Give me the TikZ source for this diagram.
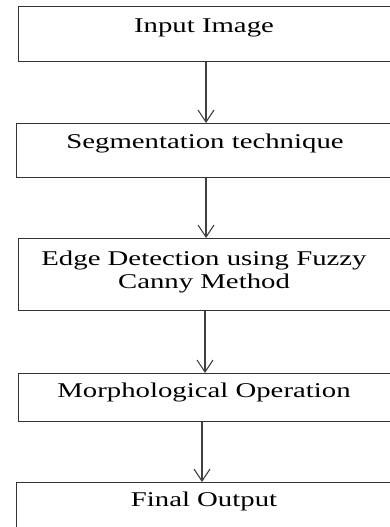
\documentclass[tikz,border=0pt]{standalone}
\usepackage{fontspec}
\setmainfont{Liberation Serif}[FakeStretch=1.37]
\usetikzlibrary{arrows.meta}
\begin{document}
\begin{tikzpicture}[x=1pt,y=1pt,
  stagebox/.style={draw=black!80, line width=1.3pt, rectangle, inner sep=0pt,
    anchor=north west, minimum width=374pt},
  stagetext/.style={anchor=base, align=center, inner sep=0pt,
    font=\fontsize{21}{23}\selectfont},
  flow/.style={draw=black!75, line width=1.1pt,
    -{Straight Barb[length=12pt,width=16pt,line width=1.1pt]}}]
\useasboundingbox (0,0) rectangle (390,-527);
\fill[white] (0,0) rectangle (390,-527);

% process boxes
\node[stagebox, minimum height=55pt] (b1) at (18,-6) {};
\node[stagebox, minimum height=54pt] (b2) at (16,-123) {};
\node[stagebox, minimum height=72pt] (b3) at (18,-238) {};
\node[stagebox, minimum height=48pt] (b4) at (18,-373) {};
\node[stagebox, minimum height=60pt] (b5) at (16,-482) {};

% box captions (base anchor sits on the last line of a caption)
\node[stagetext] (t1) at (204,-33) {Input Image};
\node[stagetext] (t2) at (205,-148) {Segmentation technique};
\node[stagetext] (t3) at (204,-288) {Edge Detection using Fuzzy\\Canny Method};
\node[stagetext] (t4) at (204,-397) {Morphological Operation};
\node[stagetext] (t5) at (204,-506) {Final Output};

% connectors
\draw[flow] (b1.south -| 206,0) -- (b2.north -| 206,0);
\draw[flow] (b2.south -| 206,0) -- (b3.north -| 206,0);
\draw[flow] (b3.south -| 205,0) -- (b4.north -| 205,0);
\draw[flow] (b4.south -| 202,0) -- (b5.north -| 202,0);
\end{tikzpicture}
\end{document}
